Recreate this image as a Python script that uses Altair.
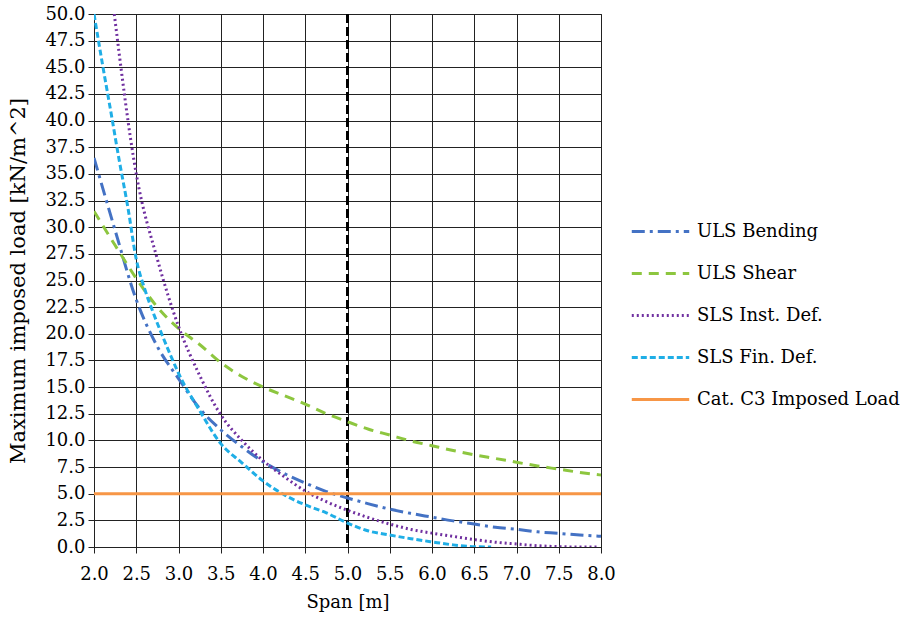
import altair as alt
import pandas as pd

# ---- data ----
series_names = ["ULS Bending", "ULS Shear", "SLS Inst. Def.", "SLS Fin. Def.", "Cat. C3 Imposed Load"]
series_colors = ["#4472C4", "#8DC63F", "#7030A0", "#1FAEE6", "#F79646"]
series_dashes = [[13, 5, 3, 5], [10, 7], [2, 3], [6, 3], [1, 0]]

bend_x = [2.0, 2.25, 2.5, 2.75, 3.0, 3.25, 3.5, 3.75, 4.0, 4.25, 4.5, 4.75, 5.0, 5.25, 5.5, 5.75,
          6.0, 6.25, 6.5, 6.75, 7.0, 7.25, 7.5, 7.75, 8.0]
bend_y = [36.5, 29.7, 23.2, 18.8, 15.8, 13.0, 11.0, 9.4, 8.0, 6.9, 6.0, 5.2, 4.6, 4.05, 3.55, 3.15,
          2.8, 2.45, 2.15, 1.85, 1.66, 1.42, 1.28, 1.12, 1.0]

shear_x = bend_x
shear_y = [31.5, 28.3, 25.2, 22.5, 20.5, 19.0, 17.3, 16.0, 15.0, 14.2, 13.4, 12.5, 11.75, 11.05, 10.5,
           9.95, 9.5, 9.05, 8.65, 8.3, 7.95, 7.6, 7.3, 7.0, 6.75]

inst_x = [2.24, 2.5, 2.75, 3.0, 3.25, 3.5, 3.75, 4.0, 4.25, 4.5, 4.75, 5.0, 5.25, 5.5, 5.75, 6.0,
          6.25, 6.5, 6.75, 7.0, 7.25, 7.5, 7.75, 7.95]
inst_y = [50.0, 35.0, 27.0, 20.7, 16.1, 12.4, 10.0, 8.1, 6.6, 5.25, 4.25, 3.45, 2.75, 2.15, 1.65, 1.3,
          1.0, 0.7, 0.45, 0.28, 0.12, 0.03, 0.0, 0.0]

fin_x = [2.0, 2.1, 2.2, 2.3, 2.4, 2.5, 2.6, 2.7, 2.8, 2.9, 3.0, 3.25, 3.5, 3.75, 4.0, 4.25, 4.5,
         4.75, 5.0, 5.25, 5.5, 5.75, 6.0, 6.25, 6.5, 6.7]
fin_y = [50.0, 45.3, 40.8, 36.2, 31.9, 27.0, 24.2, 22.0, 20.0, 18.1, 16.3, 12.8, 9.7, 7.9, 6.2, 4.9,
         3.95, 3.2, 2.25, 1.5, 1.12, 0.78, 0.48, 0.2, 0.03, 0.0]

c3_x = [2.0, 8.0]
c3_y = [5.0, 5.0]

limit_span = [5.0]

x_ticks = [2.0, 2.5, 3.0, 3.5, 4.0, 4.5, 5.0, 5.5, 6.0, 6.5, 7.0, 7.5, 8.0]
y_ticks = [0.0, 2.5, 5.0, 7.5, 10.0, 12.5, 15.0, 17.5, 20.0, 22.5, 25.0, 27.5, 30.0, 32.5, 35.0,
           37.5, 40.0, 42.5, 45.0, 47.5, 50.0]

# ---- build long table ----
rows = []
for name, xs, ys in zip(series_names,
                        [bend_x, shear_x, inst_x, fin_x, c3_x],
                        [bend_y, shear_y, inst_y, fin_y, c3_y]):
    for i, (xv, yv) in enumerate(zip(xs, ys)):
        rows.append({"series": name, "span": xv, "load": yv, "order": i})
df = pd.DataFrame(rows)

FONT = "DejaVu Serif"
x_scale = alt.Scale(domain=[2, 8], nice=False, zero=False)
y_scale = alt.Scale(domain=[0, 50], nice=False)

vline = alt.Chart(pd.DataFrame({"span": limit_span})).mark_rule(
    color="black", strokeWidth=3, strokeDash=[9, 4]
).encode(x=alt.X("span:Q", scale=x_scale))

lines = alt.Chart(df).mark_line(strokeWidth=3, clip=True, interpolate="monotone").encode(
    x=alt.X("span:Q", scale=x_scale, title="Span [m]",
            axis=alt.Axis(values=x_ticks, format=".1f", labelFlush=False)),
    y=alt.Y("load:Q", scale=y_scale, title="Maximum imposed load [kN/m^2]",
            axis=alt.Axis(values=y_ticks, format=".1f", labelFlush=False)),
    color=alt.Color("series:N", scale=alt.Scale(domain=series_names, range=series_colors),
                    legend=alt.Legend(orient="none", legendX=536, legendY=187, title=None,
                                      symbolType="stroke", symbolSize=3300, symbolStrokeWidth=3,
                                      labelFont=FONT, labelFontSize=18, labelColor="black",
                                      labelOffset=6, rowPadding=2, labelLimit=400)),
    strokeDash=alt.StrokeDash("series:N", scale=alt.Scale(domain=series_names, range=series_dashes)),
    order="order:Q",
    detail="series:N",
)

chart = alt.layer(vline, lines).properties(
    width=507, height=533,
    padding={"left": 94, "top": 14, "right": 303, "bottom": 71},
    autosize=alt.AutoSizeParams(type="none"),
).configure_view(stroke="#222222", strokeWidth=1).configure_axis(
    grid=True, gridColor="#222222", gridWidth=1, gridOpacity=1,
    domainColor="#222222", tickColor="#222222", tickSize=6,
    labelFont=FONT, labelFontSize=18, labelColor="black",
    titleFont=FONT, titleFontWeight="normal", titleColor="black",
).configure_axisX(titlePadding=10, labelPadding=12, titleFontSize=18).configure_axisY(
    titlePadding=16, labelPadding=3, titleFontSize=21)

chart.save("out.html", embed_options={"renderer": "svg", "actions": False})
